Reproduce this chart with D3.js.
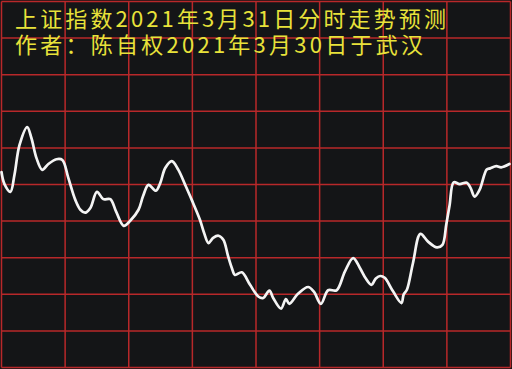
<!DOCTYPE html>
<html>
  <head>
    <meta charset="utf-8">
    <script src="https://d3js.org/d3.v7.min.js"></script>
    <style>
      body { margin: 0; background: #141517; }
      svg { display: block; }
    </style>
  </head>
<body>
  <script type="text/javascript">
    // forecast curve: minutes into session, value in grid units
    var minutes = [0, 1.4, 4.2, 6.1, 8.5, 12.1, 14.1, 16.5, 19.2, 22.1, 25.9, 28.7, 31.5, 34.8, 37.2, 39.5,
      41.9, 45.0, 48.0, 51.3, 54.1, 57.6, 60.7, 64.6, 66.8, 69.3, 72.8, 74.8, 77.2, 80.3, 83.4, 86.6,
      89.7, 93.6, 95.5, 97.6, 99.8, 102.3, 104.6, 106.8, 108.6, 110.1, 113.3, 117.2, 121.1, 123.4, 126.3,
      128.1, 131.8, 134.1, 135.7, 139.9, 144.6, 147.3, 150.6, 154.0, 158.0, 161.9, 165.8, 169.0, 171.8,
      174.4, 176.5, 178.6, 180.7, 184.6, 188.6, 189.6, 191.2, 194.0, 197.5, 201.1, 205.3, 207.9, 209.7,
      211.3, 213.2, 216.0, 219.4, 221.2, 223.1, 225.4, 228.8, 230.4, 233.3, 235.6, 239.5];
    var values = [5.34, 5.01, 4.80, 5.26, 6.08, 6.57, 6.27, 5.72, 5.40, 5.56, 5.69, 5.67, 5.18, 4.58, 4.31, 4.23,
      4.36, 4.80, 4.60, 4.60, 4.25, 3.87, 4.01, 4.31, 4.69, 4.99, 4.83, 5.03, 5.45, 5.64, 5.40, 4.99,
      4.58, 4.03, 3.68, 3.40, 3.54, 3.60, 3.49, 3.05, 2.72, 2.53, 2.60, 2.26, 1.94, 1.90, 2.10,
      1.90, 1.61, 1.87, 1.74, 2.02, 2.20, 2.07, 1.74, 2.11, 2.11, 2.62, 2.99, 2.72, 2.43,
      2.26, 2.43, 2.50, 2.45, 2.08, 1.76, 1.99, 2.13, 2.85, 3.65, 3.44, 3.28, 3.35, 3.90,
      4.44, 5.06, 5.01, 5.05, 4.90, 4.67, 4.85, 5.41, 5.44, 5.50, 5.47, 5.56];
    var titleLines = ["上证指数2021年3月31日分时走势预测", "作者：陈自权2021年3月30日于武汉"];
    var xTicks = [0, 30, 60, 90, 120, 150, 180, 210, 240];
    var yTicks = [0, 1, 2, 3, 4, 5, 6, 7, 8, 9, 10];

    var width = 512, height = 369;

    var svg = d3.select("body").append("svg")
      .attr("width", width)
      .attr("height", height);

    svg.append("rect")
      .attr("width", width).attr("height", height)
      .attr("fill", "#141517");

    var x = d3.scaleLinear().domain([0, 240]).range([1.5, 510.5]);
    var y = d3.scaleLinear().domain([0, 10]).range([367.5, 1.5]);

    // red grid
    svg.append("g").selectAll("line.v")
      .data(xTicks).enter().append("line")
      .attr("x1", function (d) { return x(d); })
      .attr("x2", function (d) { return x(d); })
      .attr("y1", y(0)).attr("y2", y(10))
      .attr("stroke", "#b8282a").attr("stroke-width", 1.5);

    svg.append("g").selectAll("line.h")
      .data(yTicks).enter().append("line")
      .attr("y1", function (d) { return y(d); })
      .attr("y2", function (d) { return y(d); })
      .attr("x1", x(0)).attr("x2", x(240))
      .attr("stroke", "#b8282a").attr("stroke-width", 1.5);

    // forecast line
    var pts = minutes.map(function (m, i) { return [m, values[i]]; });
    var line = d3.line()
      .x(function (d) { return x(d[0]); })
      .y(function (d) { return y(d[1]); })
      .curve(d3.curveCatmullRom.alpha(0.5));

    svg.append("path")
      .datum(pts)
      .attr("d", line)
      .attr("fill", "none")
      .attr("stroke", "#f4f4f4")
      .attr("stroke-width", 2.7)
      .attr("stroke-linejoin", "round")
      .attr("stroke-linecap", "round");

    // title, two lines
    var lens = [431, 408];
    svg.append("g").selectAll("text")
      .data(titleLines).enter().append("text")
      .attr("x", 15)
      .attr("y", function (d, i) { return 27 + i * 26; })
      .attr("textLength", function (d, i) { return lens[i]; })
      .attr("lengthAdjust", "spacing")
      .style("font-family", "'Noto Sans CJK SC', sans-serif")
      .style("font-size", "22px")
      .attr("fill", "#e8e23a")
      .text(function (d) { return d; });
  </script>
</body>
</html>
